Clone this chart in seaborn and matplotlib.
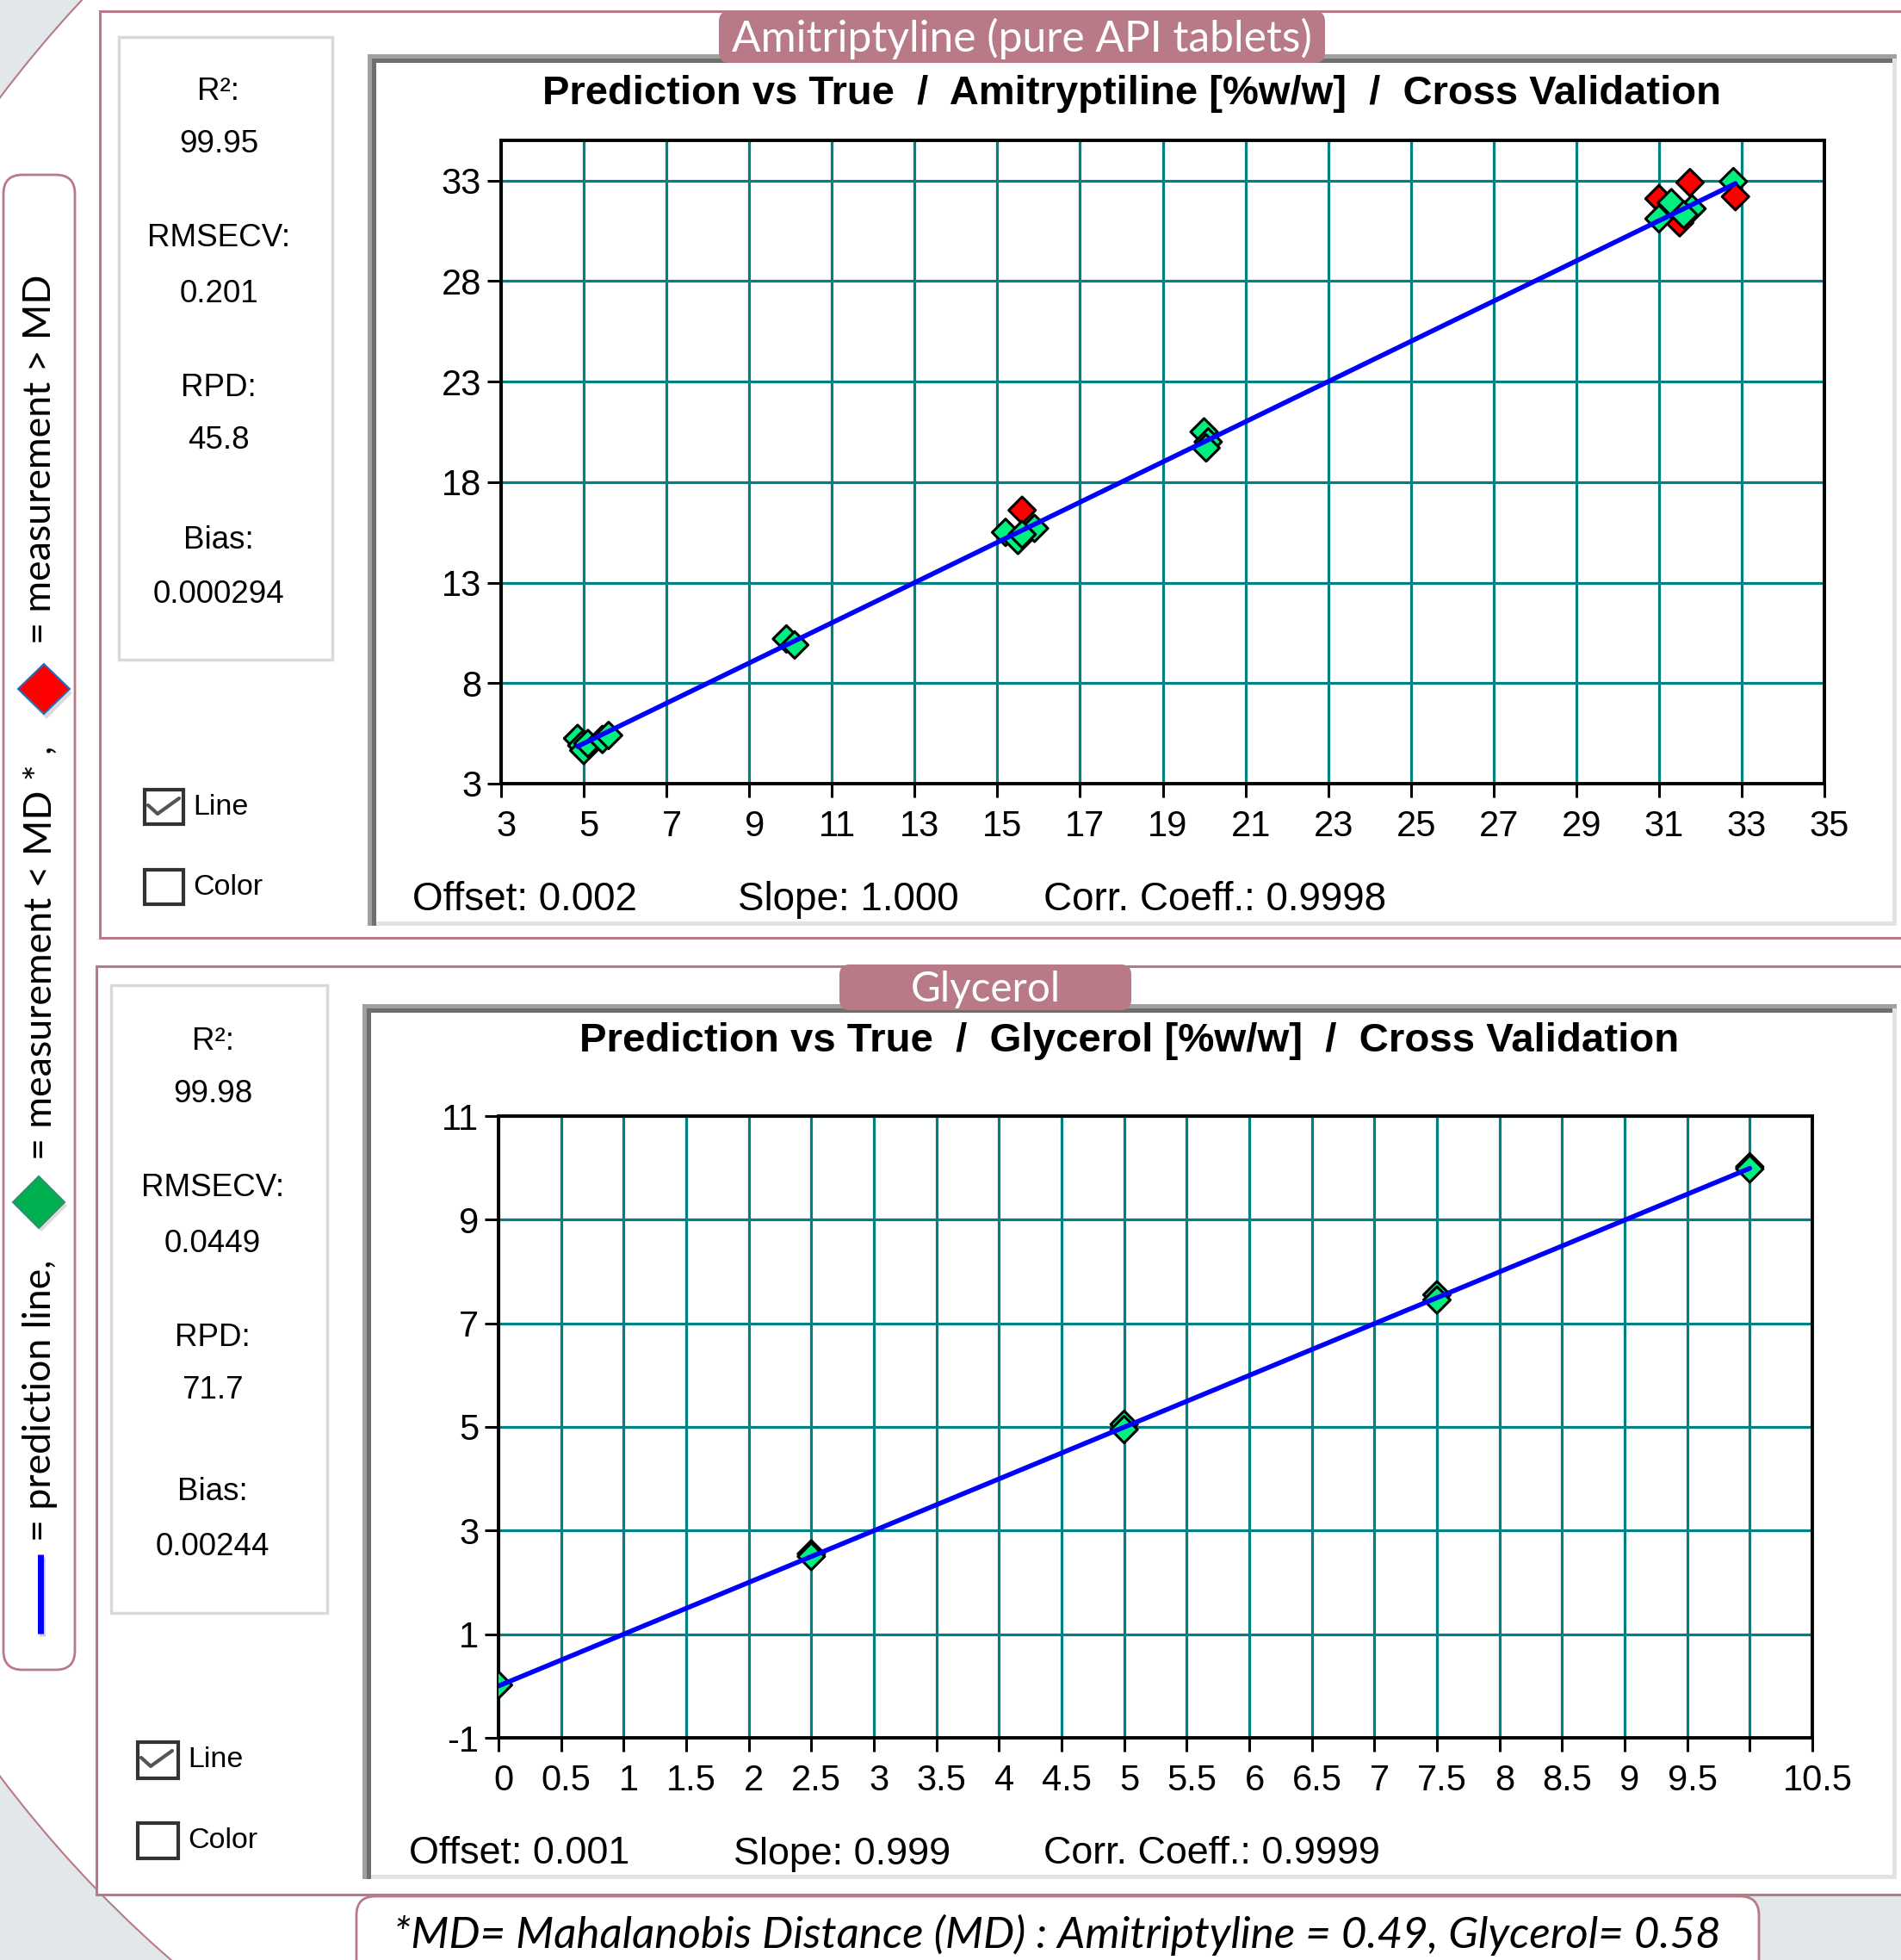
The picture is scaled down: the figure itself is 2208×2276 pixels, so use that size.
import matplotlib
matplotlib.use("Agg")
import matplotlib.pyplot as plt
from matplotlib.patches import Rectangle, FancyBboxPatch, Ellipse, Polygon
from matplotlib.ticker import FixedLocator, FixedFormatter
from matplotlib.transforms import ScaledTranslation
import pandas as pd
import seaborn as sns

# ---------------- data ----------------
# Amitriptyline: true vs cross-validated prediction, with Mahalanobis-distance class
ami_true = [4.85, 4.95, 5.0, 5.1, 5.45, 5.6,
            9.9, 10.1,
            15.6, 15.2, 15.5, 15.9, 15.6,
            20.0, 20.1, 20.05,
            31.5, 31.0, 31.0, 31.3, 31.8, 31.6, 32.8, 31.75, 32.85]
ami_pred = [5.25, 4.9, 4.65, 5.0, 5.2, 5.4,
            10.2, 9.9,
            16.6, 15.5, 15.1, 15.7, 15.4,
            20.5, 20.0, 19.7,
            30.9, 32.1, 31.1, 31.9, 31.6, 31.3, 32.95, 32.9, 32.2]
ami_group = ["< MD"] * 8 + ["> MD"] + ["< MD"] * 7 + ["> MD", "> MD"] + ["< MD"] * 5 + ["> MD", "> MD"]

gly_true = [0.0, 2.5, 2.5, 5.0, 5.0, 7.5, 7.5, 10.0, 10.0]
gly_pred = [0.02, 2.55, 2.5, 5.05, 4.95, 7.55, 7.45, 10.02, 9.98]
gly_group = ["< MD"] * 9

ami_offset, ami_slope = 0.002, 1.000
gly_offset, gly_slope = 0.001, 0.999

ami_xticks = list(range(3, 36, 2))
ami_yticks = [3, 8, 13, 18, 23, 28, 33]
gly_xticks = [0, 0.5, 1, 1.5, 2, 2.5, 3, 3.5, 4, 4.5, 5, 5.5, 6, 6.5, 7, 7.5, 8, 8.5, 9, 9.5, 10, 10.5]
gly_xlabels = ["0", "0.5", "1", "1.5", "2", "2.5", "3", "3.5", "4", "4.5", "5", "5.5", "6", "6.5",
               "7", "7.5", "8", "8.5", "9", "9.5", "", "10.5"]
gly_yticks = [-1, 1, 3, 5, 7, 9, 11]

stat_names = ["R\u00b2:", "RMSECV:", "RPD:", "Bias:"]
ami_stats = ["99.95", "0.201", "45.8", "0.000294"]
gly_stats = ["99.98", "0.0449", "71.7", "0.00244"]

ami_fit_text = ["Offset: 0.002", "Slope: 1.000", "Corr. Coeff.: 0.9998"]
gly_fit_text = ["Offset: 0.001", "Slope: 0.999", "Corr. Coeff.: 0.9999"]

ami_tab = "Amitriptyline (pure API tablets)"
gly_tab = "Glycerol"
ami_title = "Prediction vs True  /  Amitryptiline [%w/w]  /  Cross Validation"
gly_title = "Prediction vs True  /  Glycerol [%w/w]  /  Cross Validation"
legend_texts = ["= measurement > MD", "= measurement < MD * ,", "= prediction line,"]
caption = "*MD= Mahalanobis Distance (MD) : Amitriptyline = 0.49, Glycerol= 0.58"

# ---------------- style ----------------
sns.set_theme(style="white")
plt.rcParams["font.family"] = ["Liberation Sans", "DejaVu Sans"]
plt.rcParams["hatch.linewidth"] = 1.2

ROSE = "#b87a87"
TEAL = "#008080"
GREEN = "#00f080"
RED = "#ff0000"
BACK = "#e1e7ea"

W, H = 2208, 2276
fig = plt.figure(figsize=(W / 100, H / 100), dpi=100)
bg = fig.add_axes([0, 0, 1, 1])
bg.set_xlim(0, W)
bg.set_ylim(H, 0)
bg.axis("off")
renderer = fig.canvas.get_renderer()


def fit(t, target, along="w"):
    bb = t.get_window_extent(renderer)
    cur = bb.width if along == "w" else bb.height
    t.set_fontsize(t.get_fontsize() * target / cur)
    return t.get_fontsize()


def rect(x0, y0, x1, y1, **kw):
    bg.add_patch(Rectangle((x0, y0), x1 - x0, y1 - y0, **kw))


# backdrop
rect(0, 0, W, H, facecolor=BACK, edgecolor="none")
bg.add_patch(Ellipse((991.5, 1088), 2 * 1309, 2 * 1493, facecolor="white", edgecolor=ROSE, lw=1.5))
rect(1400, 0, W, 700, facecolor="white", edgecolor="none")

# left legend strip
bg.add_patch(FancyBboxPatch((4, 203), 83, 1736, boxstyle="round,pad=0,rounding_size=22",
                            facecolor="white", edgecolor=ROSE, lw=2))
leg_y = [533, 1106, 1626]
lt = [bg.text(47, y, s, rotation=90, ha="center", va="center", fontsize=30,
              family=["Lato", "DejaVu Sans"], color="black") for s, y in zip(legend_texts, leg_y)]
size = fit(lt[0], 429, along="h")
for t in lt[1:]:
    t.set_fontsize(size)
# red diamond
bg.add_patch(Polygon([(54, 775), (84, 805), (54, 835), (24, 805)], closed=True,
                     facecolor="#999999", edgecolor="none", alpha=0.35))
bg.add_patch(Polygon([(51, 771), (81, 800), (51, 829), (21, 800)], closed=True,
                     facecolor=RED, edgecolor="#1f6fbf", lw=1.5))
# green diamond
bg.add_patch(Polygon([(48, 1370), (78, 1400), (48, 1430), (18, 1400)], closed=True,
                     facecolor="#999999", edgecolor="none", alpha=0.35))
bg.add_patch(Polygon([(45, 1366), (75, 1396), (45, 1426), (15, 1396)], closed=True,
                     facecolor="#00b050", edgecolor="#2f8f6f", lw=1.5))
# blue line
bg.plot([49, 49], [1808, 1900], color="#aaaaaa", lw=5, alpha=0.5, solid_capstyle="butt")
bg.plot([47, 47], [1805, 1897], color="#0000ff", lw=5, solid_capstyle="butt")

panels = [
    dict(box=(116, 13), box_bottom=1089, tab=(835, 13, 1539, 73), tab_text=ami_tab, tab_w=672,
         stats_box=(138, 43, 386, 766), stats_x=254,
         stats_y=[106, 167, 276, 341, 450, 511, 627, 690], stats=ami_stats,
         chk=(168, 917, 213, 957), chk2=(168, 1010, 213, 1050),
         frame=(427, 63, 2203, 1075), title=ami_title, title_y=109, title_w=1369,
         ax=(582, 163, 2119, 910), fit_y=1045, fit_x=[479, 857, 1212], fit_text=ami_fit_text,
         fit_w=261,
         true=ami_true, pred=ami_pred, group=ami_group, off=ami_offset, slope=ami_slope,
         xlim=(3, 35), ylim=(3, 35), xticks=ami_xticks, xlabels=[str(v) for v in ami_xticks],
         yticks=ami_yticks),
    dict(box=(112, 1122), box_bottom=2200, tab=(975, 1120, 1314, 1173), tab_text=gly_tab, tab_w=174,
         stats_box=(129, 1144, 380, 1873), stats_x=247,
         stats_y=[1209, 1270, 1379, 1444, 1553, 1614, 1732, 1796], stats=gly_stats,
         chk=(160, 2023, 207, 2065), chk2=(160, 2117, 207, 2158),
         frame=(421, 1166, 2203, 2182), title=gly_title, title_y=1209, title_w=1276,
         ax=(579, 1296, 2105, 2018), fit_y=2153, fit_x=[475, 852, 1212], fit_text=gly_fit_text,
         fit_w=256,
         true=gly_true, pred=gly_pred, group=gly_group, off=gly_offset, slope=gly_slope,
         xlim=(0, 10.5), ylim=(-1, 11), xticks=gly_xticks, xlabels=gly_xlabels,
         yticks=gly_yticks),
]

for p in panels:
    bx, by = p["box"]
    rect(bx, by, 2300, p["box_bottom"], facecolor="white", edgecolor=ROSE, lw=2.2)

    # stats box
    sx0, sy0, sx1, sy1 = p["stats_box"]
    rect(sx0, sy0, sx1, sy1, facecolor="white", edgecolor="#d9d9d9", lw=2.5)
    items = []
    for name, val in zip(stat_names, p["stats"]):
        items += [name, val]
    for s, y in zip(items, p["stats_y"]):
        bg.text(p["stats_x"], y, s, ha="center", va="center", fontsize=26.5, color="black")

    # check boxes
    for (c0, c1, c2, c3), label in ((p["chk"], "Line"), (p["chk2"], "Color")):
        rect(c0, c1, c2, c3, facecolor="white", edgecolor="#333333", lw=3)
        bg.text(c2 + 11, (c1 + c3) / 2, label, ha="left", va="center", fontsize=24.5, color="black")
    c0, c1, c2, c3 = p["chk"]
    bg.plot([c0 + 4, c0 + 15, c0 + 40], [c1 + 18, c1 + 28, c1 + 10], color="#555555", lw=3)

    # chart frame with bevel
    f0, f1, f2, f3 = p["frame"]
    rect(f0, f1, f2, f3, facecolor="white", edgecolor="none")
    rect(f0, f3 - 5, f2, f3, facecolor="#e3e3e3", edgecolor="none")
    rect(f2 - 5, f1, f2, f3, facecolor="#e3e3e3", edgecolor="none")
    rect(f0, f1, f2, f1 + 5, facecolor="#a0a0a0", edgecolor="none")
    rect(f0, f1, f0 + 5, f3, facecolor="#a0a0a0", edgecolor="none")
    rect(f0 + 5, f1 + 5, f2 - 5, f1 + 10, facecolor="#6e6e6e", edgecolor="none")
    rect(f0 + 5, f1 + 5, f0 + 10, f3, facecolor="#6e6e6e", edgecolor="none")

    # tab
    t0, t1, t2, t3 = p["tab"]
    bg.add_patch(FancyBboxPatch((t0, t1), t2 - t0, t3 - t1, boxstyle="round,pad=0,rounding_size=12",
                                facecolor=ROSE, edgecolor="none"))
    tt = bg.text((t0 + t2) / 2, (t1 + t3) / 2 + 2, p["tab_text"], ha="center", va="center",
                 fontsize=30, color="white", family=["Lato", "DejaVu Sans"])
    fit(tt, p["tab_w"])

    # chart title
    ti = bg.text((f0 + f2) / 2, p["title_y"], p["title"], ha="center", va="center",
                 fontsize=28, fontweight="bold", color="black")
    fit(ti, p["title_w"])

    # regression summary
    ft = [bg.text(x, p["fit_y"], s, ha="left", va="center", fontsize=28, color="black")
          for x, s in zip(p["fit_x"], p["fit_text"])]
    fs = fit(ft[0], p["fit_w"])
    for t in ft[1:]:
        t.set_fontsize(fs)

    # data axes
    a0, a1, a2, a3 = p["ax"]
    ax = fig.add_axes([a0 / W, 1 - a3 / H, (a2 - a0) / W, (a3 - a1) / H])
    ax.set_facecolor("white")
    df = pd.DataFrame({"true": p["true"], "pred": p["pred"], "group": p["group"]})
    sns.scatterplot(data=df, x="true", y="pred", hue="group",
                    palette={"< MD": GREEN, "> MD": RED}, marker="D", s=250,
                    edgecolor="black", linewidth=2.2, legend=False, ax=ax, zorder=3)
    xs = [min(p["true"]), max(p["true"])]
    line = pd.DataFrame({"x": xs, "y": [p["off"] + p["slope"] * v for v in xs]})
    sns.lineplot(data=line, x="x", y="y", color="#0000ff", lw=4.0, ax=ax, zorder=4, sort=False)

    ax.set_xlim(*p["xlim"])
    ax.set_ylim(*p["ylim"])
    ax.xaxis.set_major_locator(FixedLocator(p["xticks"]))
    ax.xaxis.set_major_formatter(FixedFormatter(p["xlabels"]))
    ax.yaxis.set_major_locator(FixedLocator(p["yticks"]))
    ax.yaxis.set_major_formatter(FixedFormatter([str(v) for v in p["yticks"]]))
    ax.grid(True, color=TEAL, lw=2.3)
    ax.set_axisbelow(True)
    for sp in ax.spines.values():
        sp.set_visible(True)
        sp.set_color("black")
        sp.set_linewidth(2.8)
    ax.tick_params(axis="both", which="major", direction="out", length=11.5, width=2.2,
                   color="black", labelsize=30, labelcolor="black", bottom=True, left=True)
    ax.tick_params(axis="x", pad=10)
    ax.tick_params(axis="y", pad=5)
    ax.set_xlabel("")
    ax.set_ylabel("")
    shift = ScaledTranslation(0.06, 0, fig.dpi_scale_trans)
    for lbl in ax.get_xticklabels():
        lbl.set_transform(lbl.get_transform() + shift)

# caption
bg.add_patch(FancyBboxPatch((414, 2202), 1629, 120, boxstyle="round,pad=0,rounding_size=22",
                            facecolor="white", edgecolor=ROSE, lw=2))
cap = bg.text(1228, 2247, caption, ha="center", va="center", fontsize=34, style="italic",
              family=["Lato", "DejaVu Sans"], color="black")
fit(cap, 1539)

fig.savefig("out.png", dpi=100)
